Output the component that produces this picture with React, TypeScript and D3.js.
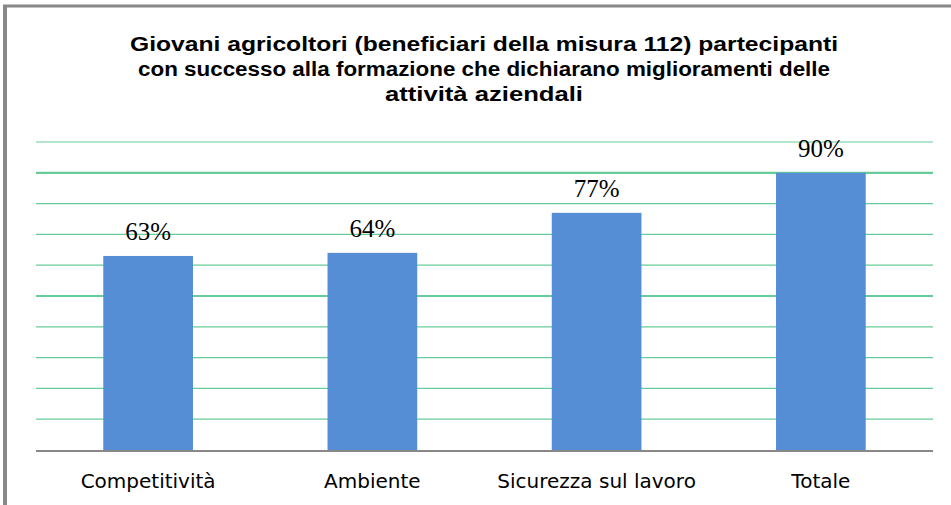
import * as d3 from "d3";

const categories = ["Competitività", "Ambiente", "Sicurezza sul lavoro", "Totale"];
const values = [63, 64, 77, 90];
const gridTicks = [0, 10, 20, 30, 40, 50, 60, 70, 80, 90, 100];
const titleLines = [
  "Giovani agricoltori (beneficiari della misura 112) partecipanti",
  "con successo alla formazione che dichiarano miglioramenti delle",
  "attività aziendali",
];
const titleWidths = [708, 692, 198];

export default function App() {
  const width = 951;
  const height = 505;
  const marginLeft = 36;
  const marginRight = 18;
  const plotTop = 142;
  const plotBottom = 450;

  const x = d3
    .scaleBand<string>()
    .domain(categories)
    .range([marginLeft, width - marginRight])
    .paddingInner(0.6)
    .paddingOuter(0.3);

  const y = d3.scaleLinear().domain([0, 100]).range([plotBottom, plotTop]);

  return (
    <svg
      width={width}
      height={height}
      style={{ position: "absolute", left: 0, top: 0, background: "#fff" }}
    >
      {/* frame */}
      <line x1={5} x2={5} y1={5} y2={height} stroke="#888" strokeWidth={4} />
      <line x1={3} x2={width} y1={6} y2={6} stroke="#888" strokeWidth={3} />

      {titleLines.map((t, i) => (
        <text
          key={i}
          x={484}
          y={51 + i * 25}
          textAnchor="middle"
          fontFamily="'Liberation Sans', Arial, sans-serif"
          fontWeight="bold"
          fontSize={20}
          textLength={titleWidths[i]}
          lengthAdjust="spacingAndGlyphs"
          fill="#000"
        >
          {t}
        </text>
      ))}

      {gridTicks.slice(1).map((t) => (
        <line
          key={t}
          x1={marginLeft}
          x2={width - marginRight}
          y1={y(t)}
          y2={y(t)}
          stroke="#66cc99"
          strokeWidth={t === 50 || t === 90 ? 2.2 : 1.2}
        />
      ))}

      {categories.map((c, i) => (
        <rect
          key={c}
          x={x(c)}
          y={y(values[i])}
          width={x.bandwidth()}
          height={y(0) - y(values[i])}
          fill="#558ed5"
        />
      ))}

      <line
        x1={marginLeft}
        x2={width - marginRight}
        y1={plotBottom + 1}
        y2={plotBottom + 1}
        stroke="#888"
        strokeWidth={2}
      />

      {categories.map((c, i) => (
        <text
          key={c}
          x={x(c)! + x.bandwidth() / 2}
          y={y(values[i]) - 16}
          textAnchor="middle"
          fontFamily="'Liberation Serif', 'Times New Roman', serif"
          fontSize={25}
          fill="#000"
        >
          {values[i]}%
        </text>
      ))}

      {categories.map((c) => (
        <text
          key={c}
          x={x(c)! + x.bandwidth() / 2}
          y={488}
          textAnchor="middle"
          fontFamily="'DejaVu Sans', Verdana, sans-serif"
          fontSize={20}
          fill="#000"
        >
          {c}
        </text>
      ))}
    </svg>
  );
}
